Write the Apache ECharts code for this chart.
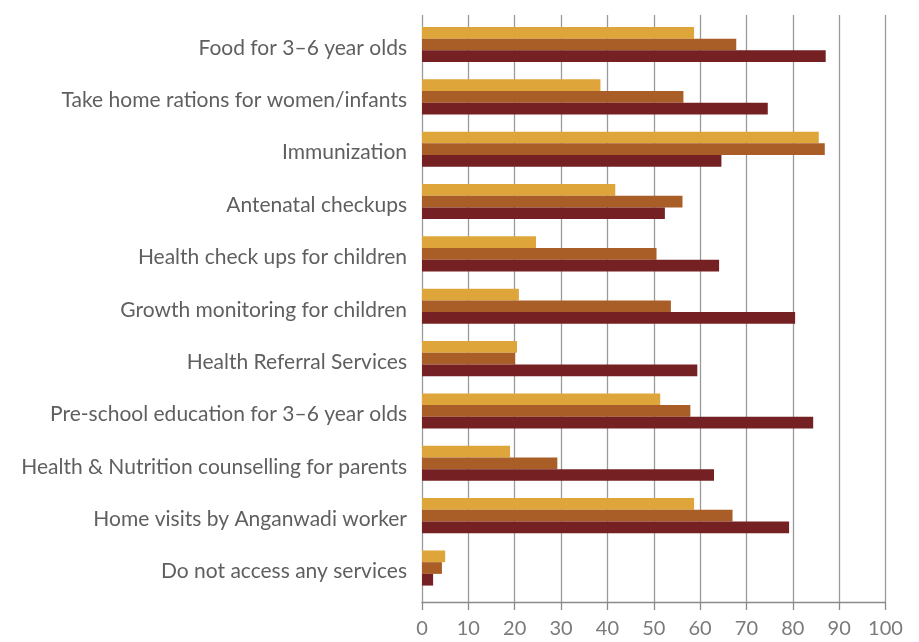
<!DOCTYPE html>
<html>
<head>
<meta charset="utf-8">
<script src="https://cdn.jsdelivr.net/npm/echarts@6/dist/echarts.min.js"></script>
<style>
html,body{margin:0;padding:0;background:#fff;}
#chart{width:919px;height:642px;}
</style>
</head>
<body>
<div id="chart"></div>
<script>
// ---- data ----
var categories = [
  "Food for 3\u20136 year olds",
  "Take home rations for women/infants",
  "Immunization",
  "Antenatal checkups",
  "Health check ups for children",
  "Growth monitoring for children",
  "Health Referral Services",
  "Pre-school education for 3\u20136 year olds",
  "Health & Nutrition counselling for parents",
  "Home visits by Anganwadi worker",
  "Do not access any services"
];
var seriesNames = ["Series 1", "Series 2", "Series 3"];
var series1 = [58.7, 38.5, 85.6, 41.7, 24.6, 20.9, 20.5, 51.4, 19.0, 58.7, 5.0];
var series2 = [67.8, 56.4, 86.9, 56.2, 50.6, 53.7, 20.1, 57.9, 29.2, 67.0, 4.3];
var series3 = [87.1, 74.6, 64.6, 52.4, 64.1, 80.5, 59.4, 84.4, 63.0, 79.2, 2.4];
var xTicks = [0, 10, 20, 30, 40, 50, 60, 70, 80, 90, 100];

var colors = ["#DEA63A", "#A95E28", "#752023"];
var FONT = "Lato";

var chart = echarts.init(document.getElementById('chart'));
var option = {
  backgroundColor: '#ffffff',
  animation: false,
  grid: [
    {left: 422, right: 33.5, top: 15, bottom: 40},      // frame: gridlines + x axis
    {left: 422, right: 33.5, top: 18.3, bottom: 47.8}   // bars
  ],
  xAxis: [
    {
      gridIndex: 0, type: 'value', min: xTicks[0], max: xTicks[xTicks.length - 1], interval: 10,
      axisLine: {show: true, lineStyle: {color: '#8a8a8a', width: 1.3}},
      axisTick: {show: true, length: 8, lineStyle: {color: '#8a8a8a', width: 1.3}},
      axisLabel: {color: '#7a7a7a', fontFamily: FONT, fontSize: 20, margin: 17},
      splitLine: {show: true, lineStyle: {color: '#9a9a9a', width: 1.3}}
    },
    {
      gridIndex: 1, type: 'value', min: xTicks[0], max: xTicks[xTicks.length - 1], interval: 10,
      show: false
    }
  ],
  yAxis: [
    {gridIndex: 0, type: 'value', min: 0, max: 1, show: false},
    {
      gridIndex: 1, type: 'category', data: categories, inverse: true,
      axisLine: {show: false}, axisTick: {show: false},
      axisLabel: {
        margin: 15,
        formatter: function (v) { return '{t|' + v + '}'; },
        rich: {t: {color: '#5f5f5f', fontFamily: FONT, fontSize: 21, lineHeight: 21, padding: [7, 0, 0, 0]}}
      }
    }
  ],
  series: [series1, series2, series3].map(function (d, i) {
    return {
      name: seriesNames[i], type: 'bar', xAxisIndex: 1, yAxisIndex: 1,
      data: d, barWidth: 11.7, barGap: '0%',
      itemStyle: {color: colors[i]}
    };
  })
};
chart.setOption(option);
</script>
</body>
</html>
